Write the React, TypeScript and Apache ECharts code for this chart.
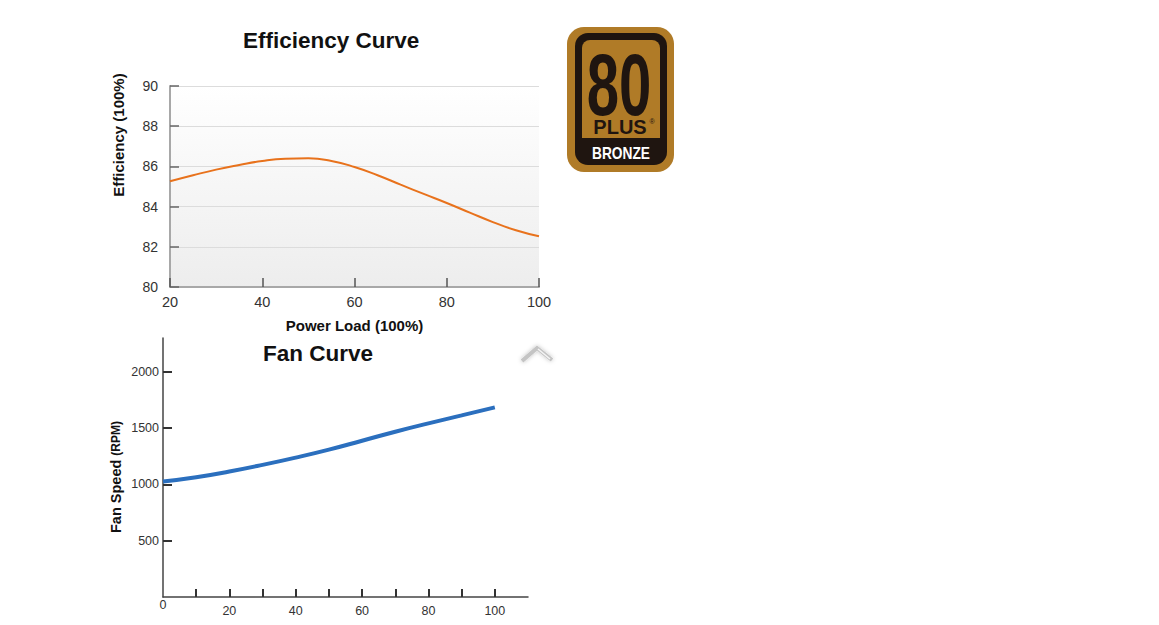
import React, { useEffect, useRef } from "react";
import * as echarts from "echarts";

// Efficiency curve data
const effLoad = [20, 25, 30, 35, 40, 45, 50, 55, 60, 65, 70, 75, 80, 85, 90, 95, 100];
const effValues = [85.26, 85.56, 85.84, 86.07, 86.27, 86.38, 86.4, 86.27, 85.97, 85.56, 85.09, 84.63, 84.18, 83.7, 83.23, 82.82, 82.52];
const effXTicks = [20, 40, 60, 80, 100];
const effYTicks = [80, 82, 84, 86, 88, 90];

// Fan curve data
const fanLoad = [0, 10, 20, 30, 40, 50, 60, 70, 80, 90, 100];
const fanValues = [1025, 1063, 1114, 1173, 1238, 1309, 1388, 1468, 1542, 1613, 1684];
const fanXTickValues = [10, 20, 30, 40, 50, 60, 70, 80, 90, 100];
const fanXLabelValues = [20, 40, 60, 80, 100];
const fanYTickValues = [500, 1000, 1500, 2000];

const FONT = "Liberation Sans, Arial, Helvetica, sans-serif";

export default function App() {
  const ref = useRef<HTMLDivElement>(null);

  useEffect(() => {
    document.body.style.margin = "0";
    document.body.style.overflow = "hidden";
    if (!ref.current) return;
    const chart = echarts.init(ref.current, undefined, { renderer: "svg" });

    const plain = (v: number) => String(v);

    const option: any = {
      animation: false,
      backgroundColor: "#ffffff",
      textStyle: { fontFamily: FONT },
      title: [
        {
          text: "Efficiency Curve",
          left: 243,
          top: 29,
          padding: 0,
          textStyle: { fontSize: 22.5, fontWeight: "bold", color: "#111", fontFamily: FONT },
        },
        {
          text: "Fan Curve",
          left: 263,
          top: 342,
          padding: 0,
          textStyle: { fontSize: 22.5, fontWeight: "bold", color: "#111", fontFamily: FONT },
        },
      ],
      grid: [
        {
          left: 170,
          top: 86,
          width: 369,
          height: 201,
          show: true,
          borderWidth: 0,
          backgroundColor: {
            type: "linear",
            x: 0,
            y: 0,
            x2: 0,
            y2: 1,
            colorStops: [
              { offset: 0, color: "#ffffff" },
              { offset: 1, color: "#ededed" },
            ],
          },
        },
        {
          left: 163,
          top: 338,
          width: 365,
          height: 259,
        },
      ],
      xAxis: [
        {
          type: "value",
          gridIndex: 0,
          min: effXTicks[0],
          max: effXTicks[effXTicks.length - 1],
          interval: 20,
          name: "Power Load (100%)",
          nameLocation: "middle",
          nameGap: 31,
          nameTextStyle: { fontSize: 15, fontWeight: "bold", color: "#111", fontFamily: FONT },
          axisLine: { show: true, lineStyle: { color: "#a8a8a8", width: 2 } },
          axisTick: { show: true, inside: true, length: 9, lineStyle: { color: "#555", width: 1.5 } },
          axisLabel: { fontSize: 14.5, color: "#333", margin: 7, fontFamily: FONT, formatter: plain },
          splitLine: { show: false },
        },
        {
          type: "value",
          gridIndex: 1,
          min: 0,
          max: 110,
          axisLine: { show: true, lineStyle: { color: "#444", width: 1.5 } },
          axisTick: {
            show: true,
            inside: true,
            length: 8,
            customValues: fanXTickValues,
            lineStyle: { color: "#333", width: 2 },
          },
          axisLabel: {
            fontSize: 12.5,
            color: "#333",
            margin: 7,
            customValues: fanXLabelValues,
            fontFamily: FONT,
            formatter: plain,
          },
          splitLine: { show: false },
        },
      ],
      yAxis: [
        {
          type: "value",
          gridIndex: 0,
          min: effYTicks[0],
          max: effYTicks[effYTicks.length - 1],
          interval: 2,
          axisLine: { show: true, lineStyle: { color: "#a8a8a8", width: 2 } },
          axisTick: { show: true, inside: true, length: 9, lineStyle: { color: "#666", width: 1.5 } },
          axisLabel: { fontSize: 14, color: "#333", margin: 12, fontFamily: FONT, formatter: plain },
          splitLine: { show: true, lineStyle: { color: "#dcdcdc", width: 1 } },
        },
        {
          type: "value",
          gridIndex: 1,
          min: 0,
          max: 2300,
          axisLine: { show: true, lineStyle: { color: "#444", width: 1.5 } },
          axisTick: {
            show: true,
            inside: true,
            length: 9,
            customValues: fanYTickValues,
            lineStyle: { color: "#333", width: 2 },
          },
          axisLabel: {
            fontSize: 12.5,
            color: "#333",
            margin: 4,
            customValues: fanYTickValues,
            fontFamily: FONT,
            formatter: plain,
          },
          splitLine: { show: false },
        },
      ],
      series: [
        {
          type: "line",
          xAxisIndex: 0,
          yAxisIndex: 0,
          smooth: true,
          symbol: "none",
          data: effLoad.map((x, i) => [x, effValues[i]]),
          lineStyle: { color: "#e8721c", width: 2 },
        },
        {
          type: "line",
          xAxisIndex: 1,
          yAxisIndex: 1,
          smooth: true,
          symbol: "none",
          data: fanLoad.map((x, i) => [x, fanValues[i]]),
          lineStyle: { color: "#2b6fbe", width: 4 },
        },
      ],
      graphic: [
        // axis names
        {
          type: "text",
          x: 118,
          y: 135,
          rotation: Math.PI / 2,
          style: {
            text: "Efficiency (100%)",
            fontSize: 15,
            fontWeight: "bold",
            fill: "#111",
            fontFamily: FONT,
            align: "center",
            verticalAlign: "middle",
          },
        },
        {
          type: "text",
          x: 116,
          y: 477,
          rotation: Math.PI / 2,
          style: {
            text: "{a|Fan Speed }{b|(RPM)}",
            fill: "#111",
            fontFamily: FONT,
            align: "center",
            verticalAlign: "middle",
            rich: {
              a: { fontSize: 14.5, fontWeight: "bold", fill: "#111", fontFamily: FONT },
              b: { fontSize: 12, fontWeight: "bold", fill: "#111", fontFamily: FONT },
            },
          },
        },
        {
          type: "text",
          x: 163,
          y: 605,
          style: {
            text: "0",
            fontSize: 12.5,
            fill: "#333",
            fontFamily: FONT,
            align: "center",
            verticalAlign: "middle",
          },
        },
        // chevron
        {
          type: "polyline",
          shape: { points: [[522, 361], [537, 348], [552, 360]] },
          style: {
            stroke: "#c4c4c4",
            lineWidth: 4,
            fill: "none",
            shadowBlur: 4,
            shadowColor: "rgba(0,0,0,0.25)",
          },
        },
        {
          type: "line",
          shape: { x1: 538, y1: 349, x2: 550, y2: 359 },
          style: { stroke: "#f4f4f4", lineWidth: 1.5 },
        },
        // 80 PLUS Bronze logo
        {
          type: "rect",
          shape: { x: 567, y: 27, width: 107, height: 145, r: 17 },
          style: { fill: "#b07b27" },
        },
        {
          type: "rect",
          shape: { x: 575, y: 33, width: 92, height: 132, r: 13 },
          style: { fill: "#1f1510" },
        },
        {
          type: "rect",
          shape: { x: 582, y: 40, width: 78, height: 98, r: [8, 8, 0, 0] },
          style: { fill: "#b07b27" },
        },
        {
          type: "text",
          x: 619,
          y: 85,
          scaleX: 0.66,
          style: {
            text: "80",
            fontSize: 88,
            fontWeight: "bold",
            fill: "#1f1510",
            fontFamily: FONT,
            align: "center",
            verticalAlign: "middle",
          },
        },
        {
          type: "text",
          x: 620,
          y: 127,
          style: {
            text: "PLUS",
            fontSize: 20,
            fontWeight: "bold",
            fill: "#1f1510",
            fontFamily: FONT,
            align: "center",
            verticalAlign: "middle",
          },
        },
        {
          type: "text",
          x: 652,
          y: 121,
          style: {
            text: "®",
            fontSize: 7,
            fill: "#1f1510",
            fontFamily: FONT,
            align: "center",
            verticalAlign: "middle",
          },
        },
        {
          type: "text",
          x: 621,
          y: 153,
          scaleX: 0.86,
          style: {
            text: "BRONZE",
            fontSize: 16,
            fontWeight: "bold",
            fill: "#ffffff",
            fontFamily: FONT,
            align: "center",
            verticalAlign: "middle",
          },
        },
      ],
    };

    chart.setOption(option);
    return () => {
      chart.dispose();
    };
  }, []);

  return <div ref={ref} style={{ width: 1159, height: 625 }} />;
}
